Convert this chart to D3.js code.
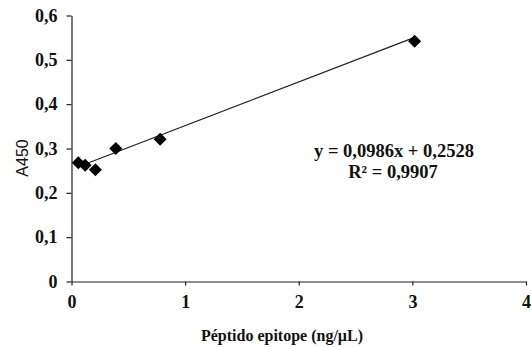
<!DOCTYPE html>
<html><head><meta charset="utf-8">
<script src="https://cdn.jsdelivr.net/npm/d3@7"></script>
<style>body{margin:0;background:#fff}svg{display:block}</style>
</head><body>
<svg id="c" width="531" height="347"></svg>
<script>
const xValues = [0.06, 0.12, 0.21, 0.39, 0.78, 3.02];
const yValues = [0.268, 0.262, 0.252, 0.300, 0.321, 0.542];
const xTicks = [0, 1, 2, 3, 4];
const yTicks = [0, 0.1, 0.2, 0.3, 0.4, 0.5, 0.6];
const slope = 0.0986, intercept = 0.2528;
const eqLabel = "y = 0,0986x + 0,2528";
const r2Label = "R² = 0,9907";
const xTitle = "Péptido epitope (ng/µL)";
const yTitle = "A450";

const svg = d3.select("#c");
const x = d3.scaleLinear().domain([0, 4]).range([71.5, 526]);
const y = d3.scaleLinear().domain([0, 0.6]).range([281.5, 15.5]);
const fmt = v => String(v).replace(".", ",");

const xa = svg.append("g").attr("transform", `translate(0,${y(0)})`)
  .call(d3.axisBottom(x).tickValues(xTicks).tickSize(4).tickSizeOuter(0).tickPadding(10).tickFormat(fmt));
const ya = svg.append("g").attr("transform", `translate(${x(0)},0)`)
  .call(d3.axisLeft(y).tickValues(yTicks).tickSize(5).tickSizeOuter(0).tickPadding(9).tickFormat(fmt));
[xa, ya].forEach(a => {
  a.selectAll("path,line").attr("stroke", "#222").attr("stroke-width", 1.2);
  a.selectAll("text").attr("font-family", "Liberation Serif").attr("font-weight", "bold")
    .attr("font-size", 18).attr("fill", "#111");
});

const x0 = d3.min(xValues), x1 = d3.max(xValues);
svg.append("line")
  .attr("x1", x(x0)).attr("y1", y(slope * x0 + intercept))
  .attr("x2", x(x1)).attr("y2", y(slope * x1 + intercept))
  .attr("stroke", "#222").attr("stroke-width", 1.2);

const pts = xValues.map((v, i) => [v, yValues[i]]);
svg.append("g").selectAll("path").data(pts).join("path")
  .attr("transform", d => `translate(${x(d[0])},${y(d[1])})`)
  .attr("d", "M0,-6.5L6.5,0L0,6.5L-6.5,0Z").attr("fill", "#000");

svg.append("text").attr("x", 394).attr("y", 157).attr("text-anchor", "middle")
  .attr("font-family", "Liberation Serif").attr("font-weight", "bold").attr("font-size", 18.5)
  .attr("fill", "#111").text(eqLabel);
svg.append("text").attr("x", 393).attr("y", 178).attr("text-anchor", "middle")
  .attr("font-family", "Liberation Serif").attr("font-weight", "bold").attr("font-size", 18.5)
  .attr("fill", "#111").text(r2Label);

svg.append("text").attr("x", 282).attr("y", 341).attr("text-anchor", "middle")
  .attr("font-family", "Liberation Serif").attr("font-weight", "bold").attr("font-size", 16)
  .attr("fill", "#111").text(xTitle);
svg.append("text").attr("transform", "translate(28,158) rotate(-90)").attr("text-anchor", "middle")
  .attr("font-family", "Liberation Sans").attr("font-size", 16)
  .attr("fill", "#111").text(yTitle);
</script>
</body></html>
